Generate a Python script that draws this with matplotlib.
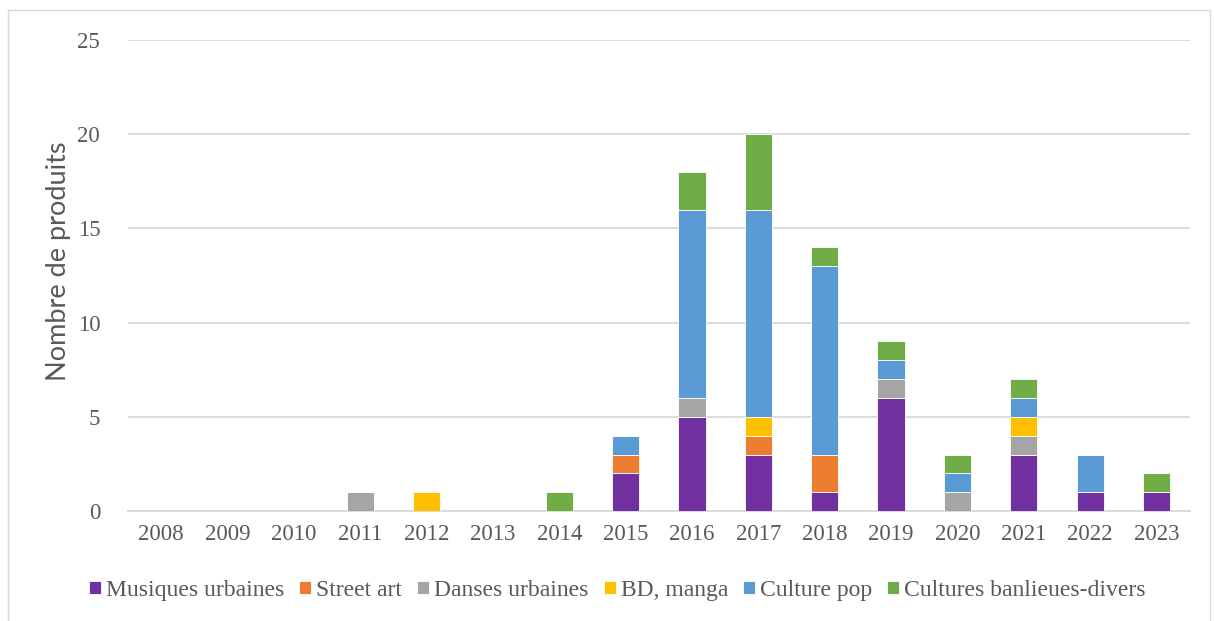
import numpy as np
import matplotlib.pyplot as plt
from matplotlib.patches import Rectangle

# data
years = [str(y) for y in range(2008, 2024)]
musiques = [0, 0, 0, 0, 0, 0, 0, 2, 5, 3, 1, 6, 0, 3, 1, 1]
street_art = [0, 0, 0, 0, 0, 0, 0, 1, 0, 1, 2, 0, 0, 0, 0, 0]
danses = [0, 0, 0, 1, 0, 0, 0, 0, 1, 0, 0, 1, 1, 1, 0, 0]
bd_manga = [0, 0, 0, 0, 1, 0, 0, 0, 0, 1, 0, 0, 0, 1, 0, 0]
culture_pop = [0, 0, 0, 0, 0, 0, 0, 1, 10, 11, 10, 1, 1, 1, 2, 0]
banlieues = [0, 0, 0, 0, 0, 0, 1, 0, 2, 4, 1, 1, 1, 1, 0, 1]

series = [
    ("Musiques urbaines", musiques, "#7030A0"),
    ("Street art", street_art, "#ED7D31"),
    ("Danses urbaines", danses, "#A5A5A5"),
    ("BD, manga", bd_manga, "#FFC000"),
    ("Culture pop", culture_pop, "#5B9BD5"),
    ("Cultures banlieues-divers", banlieues, "#70AD47"),
]

serif = ["Liberation Serif", "DejaVu Serif"]
txt_col = "#595959"

fig = plt.figure(figsize=(12.14, 6.21), dpi=100)
ax = fig.add_axes([0.1054, 0.177, 0.8746, 0.7586])

# outer chart border
fig.patches.append(Rectangle((8 / 1214, -0.01), 1202 / 1214, 1 - 10 / 621 + 0.01,
                             transform=fig.transFigure, fill=False,
                             edgecolor="#d9d9d9", lw=1))

x = np.arange(len(years))
bottom = np.zeros(len(years))
for name, vals, col in series:
    vals = np.array(vals)
    ax.bar(x, vals, width=0.41, bottom=bottom, color=col, label=name,
           edgecolor="white", linewidth=0.6, zorder=3)
    bottom += vals

ax.set_xlim(-0.5, len(years) - 0.5)
ax.set_ylim(0, 25)
ax.set_yticks(range(0, 26, 5))
ax.set_xticks(x)
ax.set_xticklabels(years)
ax.grid(axis="y", color="#d9d9d9", lw=1.3, zorder=0)
for s in ["left", "right", "top"]:
    ax.spines[s].set_visible(False)
ax.spines["bottom"].set_color("#d9d9d9")
ax.spines["bottom"].set_linewidth(1.3)
ax.tick_params(length=0, labelcolor=txt_col, labelsize=16.5)
for lab in ax.get_xticklabels() + ax.get_yticklabels():
    lab.set_family(serif)
ax.tick_params(axis="x", pad=9)
ax.tick_params(axis="y", pad=20)

ax.set_ylabel("Nombre de produits", fontsize=19.5, color=txt_col,
              family=["Lato", "DejaVu Sans"])
ax.yaxis.set_label_coords(-0.054, 0.53)

leg = ax.legend(loc="center", bbox_to_anchor=(0.461, -0.168), ncol=6,
                frameon=False, handlelength=0.5, handleheight=0.5,
                handletextpad=0.22, columnspacing=0.64,
                prop={"family": serif, "size": 17})
for t in leg.get_texts():
    t.set_color(txt_col)

fig.savefig("out.png", dpi=100)
